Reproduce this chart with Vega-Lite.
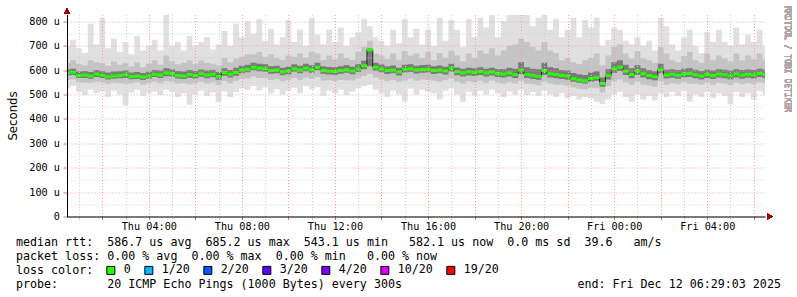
{
"$schema": "https://vega.github.io/schema/vega-lite/v6.json",
"background": "#ffffff",
"padding": {"left": 7, "top": 5.5, "right": 0, "bottom": 0},
"spacing": 3,
"config": {"view": {"stroke": null}},
"datasets": {
"ping": [
{"h":0.5,"m":588,"lo":525,"a":560,"c":578,"d":603,"b":630,"hi":700},
{"h":0.75,"m":590,"lo":535,"a":562,"c":580,"d":606,"b":640,"hi":725},
{"h":1.0,"m":578,"lo":510,"a":550,"c":568,"d":594,"b":625,"hi":690},
{"h":1.25,"m":580,"lo":498,"a":548,"c":568,"d":596,"b":620,"hi":670},
{"h":1.5,"m":576,"lo":520,"a":548,"c":565,"d":592,"b":640,"hi":790},
{"h":1.75,"m":584,"lo":505,"a":552,"c":572,"d":600,"b":632,"hi":705},
{"h":2.0,"m":579,"lo":512,"a":550,"c":568,"d":595,"b":628,"hi":815},
{"h":2.25,"m":573,"lo":490,"a":542,"c":562,"d":590,"b":618,"hi":690},
{"h":2.5,"m":576,"lo":515,"a":548,"c":565,"d":594,"b":635,"hi":730},
{"h":2.75,"m":578,"lo":500,"a":546,"c":567,"d":595,"b":622,"hi":675},
{"h":3.0,"m":581,"lo":455,"a":544,"c":568,"d":598,"b":630,"hi":715},
{"h":3.25,"m":574,"lo":508,"a":545,"c":563,"d":590,"b":615,"hi":665},
{"h":3.5,"m":575,"lo":520,"a":550,"c":564,"d":592,"b":632,"hi":740},
{"h":3.75,"m":572,"lo":495,"a":540,"c":560,"d":588,"b":612,"hi":680},
{"h":4.0,"m":576,"lo":505,"a":546,"c":565,"d":593,"b":626,"hi":700},
{"h":4.25,"m":583,"lo":512,"a":552,"c":572,"d":600,"b":640,"hi":725},
{"h":4.5,"m":580,"lo":498,"a":546,"c":568,"d":598,"b":622,"hi":680},
{"h":4.75,"m":588,"lo":520,"a":555,"c":575,"d":608,"b":660,"hi":826},
{"h":5.0,"m":586,"lo":510,"a":552,"c":574,"d":604,"b":636,"hi":700},
{"h":5.25,"m":578,"lo":490,"a":544,"c":566,"d":596,"b":624,"hi":715},
{"h":5.5,"m":576,"lo":505,"a":546,"c":564,"d":594,"b":630,"hi":680},
{"h":5.75,"m":582,"lo":458,"a":542,"c":569,"d":600,"b":640,"hi":740},
{"h":6.0,"m":578,"lo":500,"a":546,"c":566,"d":596,"b":625,"hi":700},
{"h":6.25,"m":585,"lo":515,"a":552,"c":573,"d":603,"b":638,"hi":715},
{"h":6.5,"m":580,"lo":495,"a":545,"c":567,"d":598,"b":630,"hi":735},
{"h":6.75,"m":583,"lo":508,"a":550,"c":571,"d":601,"b":626,"hi":685},
{"h":7.0,"m":574,"lo":470,"a":538,"c":561,"d":592,"b":620,"hi":705},
{"h":7.25,"m":590,"lo":512,"a":555,"c":577,"d":608,"b":650,"hi":760},
{"h":7.5,"m":583,"lo":490,"a":546,"c":570,"d":600,"b":632,"hi":700},
{"h":7.75,"m":590,"lo":510,"a":555,"c":577,"d":610,"b":648,"hi":790},
{"h":8.0,"m":600,"lo":525,"a":564,"c":587,"d":618,"b":655,"hi":735},
{"h":8.25,"m":604,"lo":520,"a":566,"c":591,"d":622,"b":665,"hi":800},
{"h":8.5,"m":612,"lo":535,"a":574,"c":599,"d":630,"b":665,"hi":750},
{"h":8.75,"m":608,"lo":518,"a":568,"c":595,"d":626,"b":675,"hi":810},
{"h":9.0,"m":606,"lo":530,"a":568,"c":593,"d":624,"b":655,"hi":720},
{"h":9.25,"m":598,"lo":505,"a":560,"c":585,"d":616,"b":665,"hi":770},
{"h":9.5,"m":600,"lo":522,"a":564,"c":587,"d":618,"b":650,"hi":705},
{"h":9.75,"m":592,"lo":500,"a":554,"c":579,"d":610,"b":642,"hi":735},
{"h":10.0,"m":596,"lo":515,"a":558,"c":583,"d":614,"b":660,"hi":805},
{"h":10.25,"m":606,"lo":528,"a":568,"c":593,"d":624,"b":655,"hi":715},
{"h":10.5,"m":600,"lo":505,"a":560,"c":587,"d":618,"b":668,"hi":765},
{"h":10.75,"m":608,"lo":535,"a":570,"c":595,"d":626,"b":652,"hi":700},
{"h":11.0,"m":602,"lo":520,"a":564,"c":589,"d":620,"b":675,"hi":815},
{"h":11.25,"m":612,"lo":530,"a":572,"c":599,"d":630,"b":668,"hi":745},
{"h":11.5,"m":598,"lo":495,"a":556,"c":585,"d":616,"b":642,"hi":705},
{"h":11.75,"m":595,"lo":515,"a":558,"c":582,"d":613,"b":660,"hi":765},
{"h":12.0,"m":594,"lo":505,"a":555,"c":581,"d":612,"b":645,"hi":715},
{"h":12.25,"m":598,"lo":520,"a":560,"c":585,"d":616,"b":668,"hi":775},
{"h":12.5,"m":602,"lo":498,"a":558,"c":589,"d":620,"b":650,"hi":700},
{"h":12.75,"m":596,"lo":512,"a":557,"c":583,"d":614,"b":642,"hi":735},
{"h":13.0,"m":605,"lo":525,"a":566,"c":592,"d":624,"b":675,"hi":755},
{"h":13.25,"m":618,"lo":535,"a":576,"c":604,"d":638,"b":695,"hi":810},
{"h":13.5,"m":684,"lo":540,"a":584,"c":616,"d":690,"b":720,"hi":780},
{"h":13.75,"m":612,"lo":520,"a":570,"c":598,"d":630,"b":668,"hi":735},
{"h":14.0,"m":605,"lo":505,"a":562,"c":591,"d":623,"b":660,"hi":720},
{"h":14.25,"m":598,"lo":490,"a":554,"c":584,"d":616,"b":645,"hi":700},
{"h":14.5,"m":601,"lo":515,"a":560,"c":587,"d":619,"b":668,"hi":765},
{"h":14.75,"m":592,"lo":500,"a":552,"c":578,"d":610,"b":640,"hi":710},
{"h":15.0,"m":604,"lo":470,"a":556,"c":590,"d":622,"b":678,"hi":810},
{"h":15.25,"m":606,"lo":525,"a":566,"c":592,"d":624,"b":660,"hi":735},
{"h":15.5,"m":600,"lo":500,"a":556,"c":586,"d":618,"b":668,"hi":770},
{"h":15.75,"m":603,"lo":520,"a":562,"c":589,"d":621,"b":650,"hi":705},
{"h":16.0,"m":604,"lo":510,"a":560,"c":590,"d":622,"b":675,"hi":765},
{"h":16.25,"m":598,"lo":505,"a":556,"c":584,"d":616,"b":640,"hi":700},
{"h":16.5,"m":601,"lo":480,"a":552,"c":587,"d":619,"b":670,"hi":815},
{"h":16.75,"m":596,"lo":515,"a":558,"c":582,"d":614,"b":650,"hi":720},
{"h":17.0,"m":608,"lo":525,"a":566,"c":594,"d":626,"b":680,"hi":805},
{"h":17.25,"m":593,"lo":500,"a":552,"c":579,"d":611,"b":660,"hi":765},
{"h":17.5,"m":588,"lo":470,"a":544,"c":574,"d":606,"b":635,"hi":695},
{"h":17.75,"m":592,"lo":510,"a":554,"c":578,"d":610,"b":668,"hi":810},
{"h":18.0,"m":590,"lo":495,"a":550,"c":576,"d":608,"b":650,"hi":735},
{"h":18.25,"m":594,"lo":515,"a":556,"c":580,"d":612,"b":680,"hi":815},
{"h":18.5,"m":588,"lo":500,"a":548,"c":574,"d":606,"b":668,"hi":775},
{"h":18.75,"m":592,"lo":520,"a":556,"c":578,"d":610,"b":690,"hi":826},
{"h":19.0,"m":586,"lo":505,"a":548,"c":572,"d":605,"b":660,"hi":735},
{"h":19.25,"m":584,"lo":490,"a":544,"c":570,"d":604,"b":680,"hi":800},
{"h":19.5,"m":588,"lo":512,"a":550,"c":574,"d":610,"b":700,"hi":826},
{"h":19.75,"m":582,"lo":500,"a":545,"c":568,"d":606,"b":705,"hi":826},
{"h":20.0,"m":600,"lo":520,"a":556,"c":584,"d":632,"b":730,"hi":826},
{"h":20.25,"m":582,"lo":498,"a":544,"c":568,"d":612,"b":715,"hi":826},
{"h":20.5,"m":578,"lo":510,"a":542,"c":564,"d":606,"b":695,"hi":780},
{"h":20.75,"m":575,"lo":495,"a":538,"c":561,"d":604,"b":680,"hi":815},
{"h":21.0,"m":598,"lo":515,"a":552,"c":580,"d":630,"b":715,"hi":826},
{"h":21.25,"m":585,"lo":500,"a":544,"c":570,"d":612,"b":680,"hi":765},
{"h":21.5,"m":582,"lo":490,"a":540,"c":567,"d":608,"b":670,"hi":810},
{"h":21.75,"m":578,"lo":505,"a":540,"c":564,"d":600,"b":640,"hi":735},
{"h":22.0,"m":576,"lo":485,"a":536,"c":561,"d":598,"b":650,"hi":765},
{"h":22.25,"m":565,"lo":495,"a":530,"c":552,"d":588,"b":632,"hi":815},
{"h":22.5,"m":560,"lo":480,"a":524,"c":547,"d":583,"b":625,"hi":735},
{"h":22.75,"m":556,"lo":490,"a":522,"c":544,"d":580,"b":642,"hi":805},
{"h":23.0,"m":566,"lo":485,"a":528,"c":552,"d":590,"b":650,"hi":775},
{"h":23.25,"m":570,"lo":470,"a":526,"c":556,"d":595,"b":668,"hi":815},
{"h":23.5,"m":545,"lo":460,"a":508,"c":532,"d":570,"b":620,"hi":700},
{"h":23.75,"m":578,"lo":480,"a":534,"c":562,"d":604,"b":660,"hi":725},
{"h":24.0,"m":606,"lo":500,"a":554,"c":588,"d":632,"b":695,"hi":775},
{"h":24.25,"m":612,"lo":510,"a":562,"c":596,"d":640,"b":705,"hi":765},
{"h":24.5,"m":595,"lo":490,"a":550,"c":580,"d":622,"b":668,"hi":720},
{"h":24.75,"m":582,"lo":470,"a":540,"c":567,"d":608,"b":648,"hi":705},
{"h":25.0,"m":596,"lo":500,"a":552,"c":581,"d":620,"b":678,"hi":735},
{"h":25.25,"m":585,"lo":480,"a":540,"c":570,"d":608,"b":648,"hi":700},
{"h":25.5,"m":578,"lo":495,"a":537,"c":563,"d":600,"b":640,"hi":720},
{"h":25.75,"m":573,"lo":475,"a":532,"c":558,"d":595,"b":630,"hi":680},
{"h":26.0,"m":602,"lo":505,"a":554,"c":587,"d":626,"b":695,"hi":815},
{"h":26.25,"m":580,"lo":490,"a":540,"c":566,"d":602,"b":668,"hi":780},
{"h":26.5,"m":583,"lo":510,"a":546,"c":569,"d":604,"b":640,"hi":705},
{"h":26.75,"m":579,"lo":495,"a":542,"c":565,"d":600,"b":632,"hi":680},
{"h":27.0,"m":585,"lo":515,"a":550,"c":571,"d":606,"b":658,"hi":735},
{"h":27.25,"m":586,"lo":470,"a":544,"c":572,"d":608,"b":675,"hi":765},
{"h":27.5,"m":581,"lo":500,"a":544,"c":567,"d":602,"b":640,"hi":700},
{"h":27.75,"m":576,"lo":490,"a":540,"c":562,"d":596,"b":630,"hi":670},
{"h":28.0,"m":582,"lo":510,"a":548,"c":568,"d":602,"b":668,"hi":755},
{"h":28.25,"m":578,"lo":485,"a":540,"c":564,"d":598,"b":640,"hi":715},
{"h":28.5,"m":584,"lo":505,"a":548,"c":570,"d":604,"b":660,"hi":765},
{"h":28.75,"m":581,"lo":495,"a":544,"c":567,"d":602,"b":648,"hi":715},
{"h":29.0,"m":577,"lo":460,"a":538,"c":563,"d":598,"b":635,"hi":700},
{"h":29.25,"m":584,"lo":510,"a":548,"c":570,"d":604,"b":668,"hi":775},
{"h":29.5,"m":579,"lo":490,"a":542,"c":565,"d":600,"b":640,"hi":705},
{"h":29.75,"m":583,"lo":505,"a":546,"c":569,"d":603,"b":660,"hi":745},
{"h":30.0,"m":580,"lo":480,"a":542,"c":566,"d":600,"b":645,"hi":715},
{"h":30.25,"m":586,"lo":512,"a":550,"c":572,"d":606,"b":668,"hi":765},
{"h":30.5,"m":582,"lo":500,"a":546,"c":568,"d":602,"b":640,"hi":700}
],
"leg": [
{"row":0,"t":"median\u00a0rtt:\u00a0\u00a0586.7\u00a0us\u00a0avg\u00a0\u00a0685.2\u00a0us\u00a0max\u00a0\u00a0543.1\u00a0us\u00a0min\u00a0\u00a0\u00a0582.1\u00a0us\u00a0now\u00a0\u00a00.0\u00a0ms\u00a0sd\u00a0\u00a039.6\u00a0\u00a0\u00a0am/s"},
{"row":1,"t":"packet\u00a0loss:\u00a00.00\u00a0%\u00a0avg\u00a0\u00a00.00\u00a0%\u00a0max\u00a0\u00a00.00\u00a0%\u00a0min\u00a0\u00a0\u00a00.00\u00a0%\u00a0now"},
{"row":2,"t":"loss\u00a0color:"},
{"row":3,"t":"probe:\u00a0\u00a0\u00a0\u00a0\u00a0\u00a0\u00a020\u00a0ICMP\u00a0Echo\u00a0Pings\u00a0(1000\u00a0Bytes)\u00a0every\u00a0300s\u00a0\u00a0\u00a0\u00a0\u00a0\u00a0\u00a0\u00a0\u00a0\u00a0\u00a0\u00a0\u00a0\u00a0\u00a0\u00a0\u00a0\u00a0\u00a0\u00a0\u00a0\u00a0\u00a0\u00a0\u00a0end:\u00a0Fri\u00a0Dec\u00a012\u00a006:29:03\u00a02025"}
]
},
"vconcat": [
{
"width": 698,
"height": 202,
"data": {"name": "ping"},
"layer": [
{"mark": {"type": "area", "interpolate": "step", "color": "#e0e0e0", "clip": true},
 "encoding": {
  "x": {"field": "h", "type": "quantitative", "scale": {"domain": [0.483, 30.483], "nice": false, "zero": false},
    "axis": {"title": null, "values": [1,2,3,4,5,6,7,8,9,10,11,12,13,14,15,16,17,18,19,20,21,22,23,24,25,26,27,28,29,30], "labelExpr": "datum.value % 4 == 0 ? (datum.value < 24 ? 'Thu ' : 'Fri ') + (datum.value % 24 < 10 ? '0' : '') + (datum.value % 24) + ':00' : ''", "grid": true, "gridColor": {"condition": {"test": "datum.value % 2 == 0", "value": "#f0a0a0"}, "value": "#cfcfcf"}, "gridDash": [1, 2], "gridWidth": 1, "tickColor": {"condition": {"test": "datum.value % 2 == 0", "value": "#e07070"}, "value": "#cfcfcf"}, "tickSize": 3, "domainColor": "#000000", "labelFont": "DejaVu Sans Mono", "labelFontSize": 10.2, "labelColor": "#000000", "labelPadding": 2, "labelFlush": false, "labelOverlap": false, "zindex": 1}},
  "y": {"field": "lo", "type": "quantitative", "scale": {"domain": [0, 828], "nice": false},
    "axis": {"title": "Seconds", "values": [0,50,100,150,200,250,300,350,400,450,500,550,600,650,700,750,800], "labelExpr": "datum.value % 100 == 0 ? (datum.value == 0 ? '0' : datum.value + ' u') : ''", "grid": true, "gridColor": {"condition": {"test": "datum.value % 100 == 0", "value": "#f0a0a0"}, "value": "#cfcfcf"}, "gridDash": [1, 2], "tickColor": {"condition": {"test": "datum.value % 100 == 0", "value": "#e07070"}, "value": "rgba(0,0,0,0)"}, "tickSize": 4, "domainColor": "#000000", "labelFont": "DejaVu Sans Mono", "labelFontSize": 10.2, "labelColor": "#000000", "labelPadding": 3.5, "labelOverlap": false, "labelFlush": false, "titleFont": "DejaVu Sans", "titleFontSize": 11.7, "titleFontWeight": "normal", "titleColor": "#000000", "titlePadding": 10, "zindex": 1}},
  "y2": {"field": "hi"}
 }},
{"mark": {"type": "area", "interpolate": "step", "color": "#c4c4c4", "clip": true},
 "encoding": {
  "x": {"field": "h", "type": "quantitative",
    "axis": {"title": null, "values": [1,2,3,4,5,6,7,8,9,10,11,12,13,14,15,16,17,18,19,20,21,22,23,24,25,26,27,28,29,30], "labelExpr": "datum.value % 4 == 0 ? (datum.value < 24 ? 'Thu ' : 'Fri ') + (datum.value % 24 < 10 ? '0' : '') + (datum.value % 24) + ':00' : ''", "grid": true, "gridColor": {"condition": {"test": "datum.value % 2 == 0", "value": "#f0a0a0"}, "value": "#cfcfcf"}, "gridDash": [1, 2], "gridWidth": 1, "tickColor": {"condition": {"test": "datum.value % 2 == 0", "value": "#e07070"}, "value": "#cfcfcf"}, "tickSize": 3, "domainColor": "#000000", "labelFont": "DejaVu Sans Mono", "labelFontSize": 10.2, "labelColor": "#000000", "labelPadding": 2, "labelFlush": false, "labelOverlap": false, "zindex": 1}},
  "y": {"field": "a", "type": "quantitative",
    "axis": {"title": "Seconds", "values": [0,50,100,150,200,250,300,350,400,450,500,550,600,650,700,750,800], "labelExpr": "datum.value % 100 == 0 ? (datum.value == 0 ? '0' : datum.value + ' u') : ''", "grid": true, "gridColor": {"condition": {"test": "datum.value % 100 == 0", "value": "#f0a0a0"}, "value": "#cfcfcf"}, "gridDash": [1, 2], "tickColor": {"condition": {"test": "datum.value % 100 == 0", "value": "#e07070"}, "value": "rgba(0,0,0,0)"}, "tickSize": 4, "domainColor": "#000000", "labelFont": "DejaVu Sans Mono", "labelFontSize": 10.2, "labelColor": "#000000", "labelPadding": 3.5, "labelOverlap": false, "labelFlush": false, "titleFont": "DejaVu Sans", "titleFontSize": 11.7, "titleFontWeight": "normal", "titleColor": "#000000", "titlePadding": 10, "zindex": 1}},
  "y2": {"field": "b"}
 }},
{"mark": {"type": "area", "interpolate": "step", "color": "#7a7a7a", "clip": true},
 "encoding": {
  "x": {"field": "h", "type": "quantitative",
    "axis": {"title": null, "values": [1,2,3,4,5,6,7,8,9,10,11,12,13,14,15,16,17,18,19,20,21,22,23,24,25,26,27,28,29,30], "labelExpr": "datum.value % 4 == 0 ? (datum.value < 24 ? 'Thu ' : 'Fri ') + (datum.value % 24 < 10 ? '0' : '') + (datum.value % 24) + ':00' : ''", "grid": true, "gridColor": {"condition": {"test": "datum.value % 2 == 0", "value": "#f0a0a0"}, "value": "#cfcfcf"}, "gridDash": [1, 2], "gridWidth": 1, "tickColor": {"condition": {"test": "datum.value % 2 == 0", "value": "#e07070"}, "value": "#cfcfcf"}, "tickSize": 3, "domainColor": "#000000", "labelFont": "DejaVu Sans Mono", "labelFontSize": 10.2, "labelColor": "#000000", "labelPadding": 2, "labelFlush": false, "labelOverlap": false, "zindex": 1}},
  "y": {"field": "c", "type": "quantitative",
    "axis": {"title": "Seconds", "values": [0,50,100,150,200,250,300,350,400,450,500,550,600,650,700,750,800], "labelExpr": "datum.value % 100 == 0 ? (datum.value == 0 ? '0' : datum.value + ' u') : ''", "grid": true, "gridColor": {"condition": {"test": "datum.value % 100 == 0", "value": "#f0a0a0"}, "value": "#cfcfcf"}, "gridDash": [1, 2], "tickColor": {"condition": {"test": "datum.value % 100 == 0", "value": "#e07070"}, "value": "rgba(0,0,0,0)"}, "tickSize": 4, "domainColor": "#000000", "labelFont": "DejaVu Sans Mono", "labelFontSize": 10.2, "labelColor": "#000000", "labelPadding": 3.5, "labelOverlap": false, "labelFlush": false, "titleFont": "DejaVu Sans", "titleFontSize": 11.7, "titleFontWeight": "normal", "titleColor": "#000000", "titlePadding": 10, "zindex": 1}},
  "y2": {"field": "d"}
 }},
{"mark": {"type": "line", "interpolate": "step", "color": "#222222", "strokeWidth": 1, "clip": true},
 "encoding": {
  "x": {"field": "h", "type": "quantitative",
    "axis": {"title": null, "values": [1,2,3,4,5,6,7,8,9,10,11,12,13,14,15,16,17,18,19,20,21,22,23,24,25,26,27,28,29,30], "labelExpr": "datum.value % 4 == 0 ? (datum.value < 24 ? 'Thu ' : 'Fri ') + (datum.value % 24 < 10 ? '0' : '') + (datum.value % 24) + ':00' : ''", "grid": true, "gridColor": {"condition": {"test": "datum.value % 2 == 0", "value": "#f0a0a0"}, "value": "#cfcfcf"}, "gridDash": [1, 2], "gridWidth": 1, "tickColor": {"condition": {"test": "datum.value % 2 == 0", "value": "#e07070"}, "value": "#cfcfcf"}, "tickSize": 3, "domainColor": "#000000", "labelFont": "DejaVu Sans Mono", "labelFontSize": 10.2, "labelColor": "#000000", "labelPadding": 2, "labelFlush": false, "labelOverlap": false, "zindex": 1}},
  "y": {"field": "m", "type": "quantitative",
    "axis": {"title": "Seconds", "values": [0,50,100,150,200,250,300,350,400,450,500,550,600,650,700,750,800], "labelExpr": "datum.value % 100 == 0 ? (datum.value == 0 ? '0' : datum.value + ' u') : ''", "grid": true, "gridColor": {"condition": {"test": "datum.value % 100 == 0", "value": "#f0a0a0"}, "value": "#cfcfcf"}, "gridDash": [1, 2], "tickColor": {"condition": {"test": "datum.value % 100 == 0", "value": "#e07070"}, "value": "rgba(0,0,0,0)"}, "tickSize": 4, "domainColor": "#000000", "labelFont": "DejaVu Sans Mono", "labelFontSize": 10.2, "labelColor": "#000000", "labelPadding": 3.5, "labelOverlap": false, "labelFlush": false, "titleFont": "DejaVu Sans", "titleFontSize": 11.7, "titleFontWeight": "normal", "titleColor": "#000000", "titlePadding": 10, "zindex": 1}}
 }},
{"mark": {"type": "tick", "orient": "horizontal", "color": "#26ff00", "size": 6, "thickness": 3, "opacity": 1, "clip": true},
 "encoding": {
  "x": {"field": "h", "type": "quantitative",
    "axis": {"title": null, "values": [1,2,3,4,5,6,7,8,9,10,11,12,13,14,15,16,17,18,19,20,21,22,23,24,25,26,27,28,29,30], "labelExpr": "datum.value % 4 == 0 ? (datum.value < 24 ? 'Thu ' : 'Fri ') + (datum.value % 24 < 10 ? '0' : '') + (datum.value % 24) + ':00' : ''", "grid": true, "gridColor": {"condition": {"test": "datum.value % 2 == 0", "value": "#f0a0a0"}, "value": "#cfcfcf"}, "gridDash": [1, 2], "gridWidth": 1, "tickColor": {"condition": {"test": "datum.value % 2 == 0", "value": "#e07070"}, "value": "#cfcfcf"}, "tickSize": 3, "domainColor": "#000000", "labelFont": "DejaVu Sans Mono", "labelFontSize": 10.2, "labelColor": "#000000", "labelPadding": 2, "labelFlush": false, "labelOverlap": false, "zindex": 1}},
  "y": {"field": "m", "type": "quantitative",
    "axis": {"title": "Seconds", "values": [0,50,100,150,200,250,300,350,400,450,500,550,600,650,700,750,800], "labelExpr": "datum.value % 100 == 0 ? (datum.value == 0 ? '0' : datum.value + ' u') : ''", "grid": true, "gridColor": {"condition": {"test": "datum.value % 100 == 0", "value": "#f0a0a0"}, "value": "#cfcfcf"}, "gridDash": [1, 2], "tickColor": {"condition": {"test": "datum.value % 100 == 0", "value": "#e07070"}, "value": "rgba(0,0,0,0)"}, "tickSize": 4, "domainColor": "#000000", "labelFont": "DejaVu Sans Mono", "labelFontSize": 10.2, "labelColor": "#000000", "labelPadding": 3.5, "labelOverlap": false, "labelFlush": false, "titleFont": "DejaVu Sans", "titleFontSize": 11.7, "titleFontWeight": "normal", "titleColor": "#000000", "titlePadding": 10, "zindex": 1}}
 }},
{"mark": {"type": "point", "shape": "triangle-right", "filled": true, "color": "#a00000", "size": 30, "opacity": 1},
 "encoding": {
  "x": {"datum": 30.7, "type": "quantitative",
    "axis": {"title": null, "values": [1,2,3,4,5,6,7,8,9,10,11,12,13,14,15,16,17,18,19,20,21,22,23,24,25,26,27,28,29,30], "labelExpr": "datum.value % 4 == 0 ? (datum.value < 24 ? 'Thu ' : 'Fri ') + (datum.value % 24 < 10 ? '0' : '') + (datum.value % 24) + ':00' : ''", "grid": true, "gridColor": {"condition": {"test": "datum.value % 2 == 0", "value": "#f0a0a0"}, "value": "#cfcfcf"}, "gridDash": [1, 2], "gridWidth": 1, "tickColor": {"condition": {"test": "datum.value % 2 == 0", "value": "#e07070"}, "value": "#cfcfcf"}, "tickSize": 3, "domainColor": "#000000", "labelFont": "DejaVu Sans Mono", "labelFontSize": 10.2, "labelColor": "#000000", "labelPadding": 2, "labelFlush": false, "labelOverlap": false, "zindex": 1}},
  "y": {"datum": 0, "type": "quantitative",
    "axis": {"title": "Seconds", "values": [0,50,100,150,200,250,300,350,400,450,500,550,600,650,700,750,800], "labelExpr": "datum.value % 100 == 0 ? (datum.value == 0 ? '0' : datum.value + ' u') : ''", "grid": true, "gridColor": {"condition": {"test": "datum.value % 100 == 0", "value": "#f0a0a0"}, "value": "#cfcfcf"}, "gridDash": [1, 2], "tickColor": {"condition": {"test": "datum.value % 100 == 0", "value": "#e07070"}, "value": "rgba(0,0,0,0)"}, "tickSize": 4, "domainColor": "#000000", "labelFont": "DejaVu Sans Mono", "labelFontSize": 10.2, "labelColor": "#000000", "labelPadding": 3.5, "labelOverlap": false, "labelFlush": false, "titleFont": "DejaVu Sans", "titleFontSize": 11.7, "titleFontWeight": "normal", "titleColor": "#000000", "titlePadding": 10, "zindex": 1}}
 }},
{"mark": {"type": "point", "shape": "triangle-up", "filled": true, "color": "#a00000", "size": 30, "opacity": 1},
 "encoding": {
  "x": {"datum": 0.483, "type": "quantitative",
    "axis": {"title": null, "values": [1,2,3,4,5,6,7,8,9,10,11,12,13,14,15,16,17,18,19,20,21,22,23,24,25,26,27,28,29,30], "labelExpr": "datum.value % 4 == 0 ? (datum.value < 24 ? 'Thu ' : 'Fri ') + (datum.value % 24 < 10 ? '0' : '') + (datum.value % 24) + ':00' : ''", "grid": true, "gridColor": {"condition": {"test": "datum.value % 2 == 0", "value": "#f0a0a0"}, "value": "#cfcfcf"}, "gridDash": [1, 2], "gridWidth": 1, "tickColor": {"condition": {"test": "datum.value % 2 == 0", "value": "#e07070"}, "value": "#cfcfcf"}, "tickSize": 3, "domainColor": "#000000", "labelFont": "DejaVu Sans Mono", "labelFontSize": 10.2, "labelColor": "#000000", "labelPadding": 2, "labelFlush": false, "labelOverlap": false, "zindex": 1}},
  "y": {"datum": 843, "type": "quantitative",
    "axis": {"title": "Seconds", "values": [0,50,100,150,200,250,300,350,400,450,500,550,600,650,700,750,800], "labelExpr": "datum.value % 100 == 0 ? (datum.value == 0 ? '0' : datum.value + ' u') : ''", "grid": true, "gridColor": {"condition": {"test": "datum.value % 100 == 0", "value": "#f0a0a0"}, "value": "#cfcfcf"}, "gridDash": [1, 2], "tickColor": {"condition": {"test": "datum.value % 100 == 0", "value": "#e07070"}, "value": "rgba(0,0,0,0)"}, "tickSize": 4, "domainColor": "#000000", "labelFont": "DejaVu Sans Mono", "labelFontSize": 10.2, "labelColor": "#000000", "labelPadding": 3.5, "labelOverlap": false, "labelFlush": false, "titleFont": "DejaVu Sans", "titleFontSize": 11.7, "titleFontWeight": "normal", "titleColor": "#000000", "titlePadding": 10, "zindex": 1}}
 }},
{"mark": {"type": "text", "text": "RRDTOOL / TOBI OETIKER", "angle": 90, "align": "left", "baseline": "middle", "font": "DejaVu Sans Mono", "fontSize": 8, "color": "#a8a8a8"},
 "encoding": {
  "x": {"datum": 31.45, "type": "quantitative",
    "axis": {"title": null, "values": [1,2,3,4,5,6,7,8,9,10,11,12,13,14,15,16,17,18,19,20,21,22,23,24,25,26,27,28,29,30], "labelExpr": "datum.value % 4 == 0 ? (datum.value < 24 ? 'Thu ' : 'Fri ') + (datum.value % 24 < 10 ? '0' : '') + (datum.value % 24) + ':00' : ''", "grid": true, "gridColor": {"condition": {"test": "datum.value % 2 == 0", "value": "#f0a0a0"}, "value": "#cfcfcf"}, "gridDash": [1, 2], "gridWidth": 1, "tickColor": {"condition": {"test": "datum.value % 2 == 0", "value": "#e07070"}, "value": "#cfcfcf"}, "tickSize": 3, "domainColor": "#000000", "labelFont": "DejaVu Sans Mono", "labelFontSize": 10.2, "labelColor": "#000000", "labelPadding": 2, "labelFlush": false, "labelOverlap": false, "zindex": 1}},
  "y": {"datum": 862, "type": "quantitative",
    "axis": {"title": "Seconds", "values": [0,50,100,150,200,250,300,350,400,450,500,550,600,650,700,750,800], "labelExpr": "datum.value % 100 == 0 ? (datum.value == 0 ? '0' : datum.value + ' u') : ''", "grid": true, "gridColor": {"condition": {"test": "datum.value % 100 == 0", "value": "#f0a0a0"}, "value": "#cfcfcf"}, "gridDash": [1, 2], "tickColor": {"condition": {"test": "datum.value % 100 == 0", "value": "#e07070"}, "value": "rgba(0,0,0,0)"}, "tickSize": 4, "domainColor": "#000000", "labelFont": "DejaVu Sans Mono", "labelFontSize": 10.2, "labelColor": "#000000", "labelPadding": 3.5, "labelOverlap": false, "labelFlush": false, "titleFont": "DejaVu Sans", "titleFontSize": 11.7, "titleFontWeight": "normal", "titleColor": "#000000", "titlePadding": 10, "zindex": 1}}
 }}
]
},
{
"width": 720,
"height": 56,
"layer": [
{"data": {"name": "leg"},
 "mark": {"type": "text", "font": "DejaVu Sans Mono", "fontSize": 11.66, "align": "left", "baseline": "middle", "color": "#000000"},
 "encoding": {
  "x": {"datum": 0, "type": "quantitative", "scale": {"domain": [7.265, 109.83], "nice": false, "zero": false}, "axis": null},
  "y": {"field": "row", "type": "quantitative", "scale": {"domain": [3.5, -0.5], "nice": false, "zero": false}, "axis": null},
  "text": {"field": "t"}
 }},
{"data": {"values": [{"k": 1}]},
 "mark": {"type": "square", "opacity": 0},
 "encoding": {
  "x": {"datum": 7.265, "type": "quantitative", "axis": null},
  "y": {"datum": 0, "type": "quantitative", "axis": null},
  "color": {"datum": "0", "type": "nominal",
    "scale": {"domain": ["0", "1/20", "2/20", "3/20", "4/20", "10/20", "19/20"], "range": ["#26ff00", "#00b8ff", "#0059ff", "#5e00ff", "#7e00ff", "#dd00ff", "#ff0000"]},
    "legend": {"orient": "none", "legendX": 38, "legendY": 250, "direction": "horizontal", "title": null,
      "symbolType": "square", "symbolSize": 64, "symbolStrokeColor": "#000000", "symbolStrokeWidth": 1, "symbolOpacity": 1,
      "labelFont": "DejaVu Sans Mono", "labelFontSize": 11.66, "labelColor": "#000000", "labelOffset": 7,
      "columnPadding": 11, "padding": 0, "labelLimit": 0}}
 }}
]
}
]
}
